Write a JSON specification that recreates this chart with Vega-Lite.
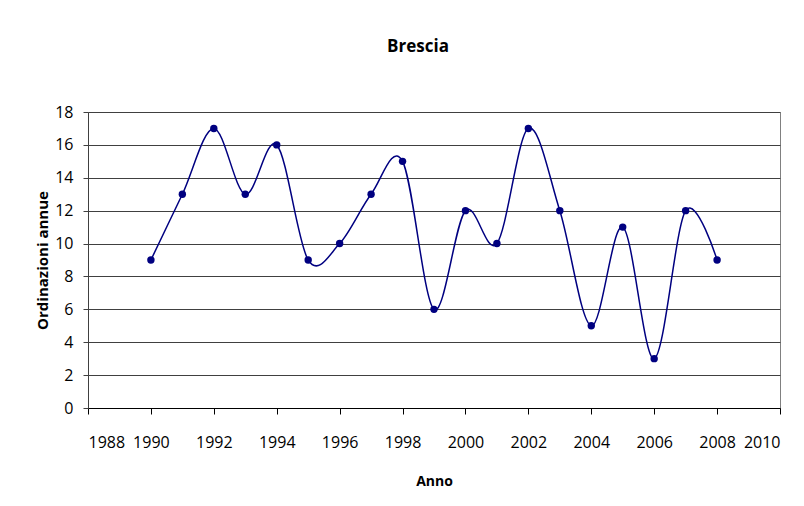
{
  "$schema": "https://vega.github.io/schema/vega-lite/v6.json",
  "autosize": {"type": "none"},
  "width": 692,
  "height": 296,
  "padding": {"left": 88, "top": 112, "right": 24, "bottom": 98},
  "background": "white",
  "title": {
    "text": "Brescia",
    "font": "Open Sans",
    "fontSize": 17,
    "fontWeight": "bold",
    "color": "black",
    "anchor": "middle",
    "dx": -16,
    "offset": 48
  },
  "config": {
    "view": {"stroke": "#808080", "strokeWidth": 1},
    "axis": {
      "labelFont": "Open Sans",
      "labelFontSize": 16,
      "labelColor": "black",
      "titleFont": "Open Sans",
      "titleFontSize": 14,
      "titleFontWeight": "bold",
      "titleColor": "black",
      "domainColor": "#404040",
      "tickColor": "#404040",
      "tickSize": 5,
      "gridColor": "#404040",
      "gridWidth": 1.2,
      "gridOpacity": 1
    }
  },
  "data": {
    "values": [
      {"anno": 1990, "ordinazioni": 9},
      {"anno": 1991, "ordinazioni": 13},
      {"anno": 1992, "ordinazioni": 17},
      {"anno": 1993, "ordinazioni": 13},
      {"anno": 1994, "ordinazioni": 16},
      {"anno": 1995, "ordinazioni": 9},
      {"anno": 1996, "ordinazioni": 10},
      {"anno": 1997, "ordinazioni": 13},
      {"anno": 1998, "ordinazioni": 15},
      {"anno": 1999, "ordinazioni": 6},
      {"anno": 2000, "ordinazioni": 12},
      {"anno": 2001, "ordinazioni": 10},
      {"anno": 2002, "ordinazioni": 17},
      {"anno": 2003, "ordinazioni": 12},
      {"anno": 2004, "ordinazioni": 5},
      {"anno": 2005, "ordinazioni": 11},
      {"anno": 2006, "ordinazioni": 3},
      {"anno": 2007, "ordinazioni": 12},
      {"anno": 2008, "ordinazioni": 9}
    ]
  },
  "encoding": {
    "x": {
      "field": "anno",
      "type": "quantitative",
      "scale": {"domain": [1988, 2010], "nice": false, "zero": false},
      "axis": {
        "values": [1988, 1990, 1992, 1994, 1996, 1998, 2000, 2002, 2004, 2006, 2008, 2010],
        "format": "d",
        "grid": false,
        "title": "Anno",
        "tickSize": 6,
        "labelPadding": 20,
        "titlePadding": 24,
        "domainColor": "black",
        "tickColor": "black"
      }
    },
    "y": {
      "field": "ordinazioni",
      "type": "quantitative",
      "scale": {"domain": [0, 18], "nice": false},
      "axis": {
        "values": [0, 2, 4, 6, 8, 10, 12, 14, 16, 18],
        "grid": true,
        "title": "Ordinazioni annue",
        "titleFontSize": 15,
        "labelPadding": 10,
        "titlePadding": 4
      }
    }
  },
  "layer": [
    {
      "mark": {"type": "line", "interpolate": "cardinal", "tension": 0, "color": "#000080", "strokeWidth": 1.5}
    },
    {
      "mark": {"type": "point", "filled": true, "color": "#000080", "size": 55, "opacity": 1}
    }
  ]
}
